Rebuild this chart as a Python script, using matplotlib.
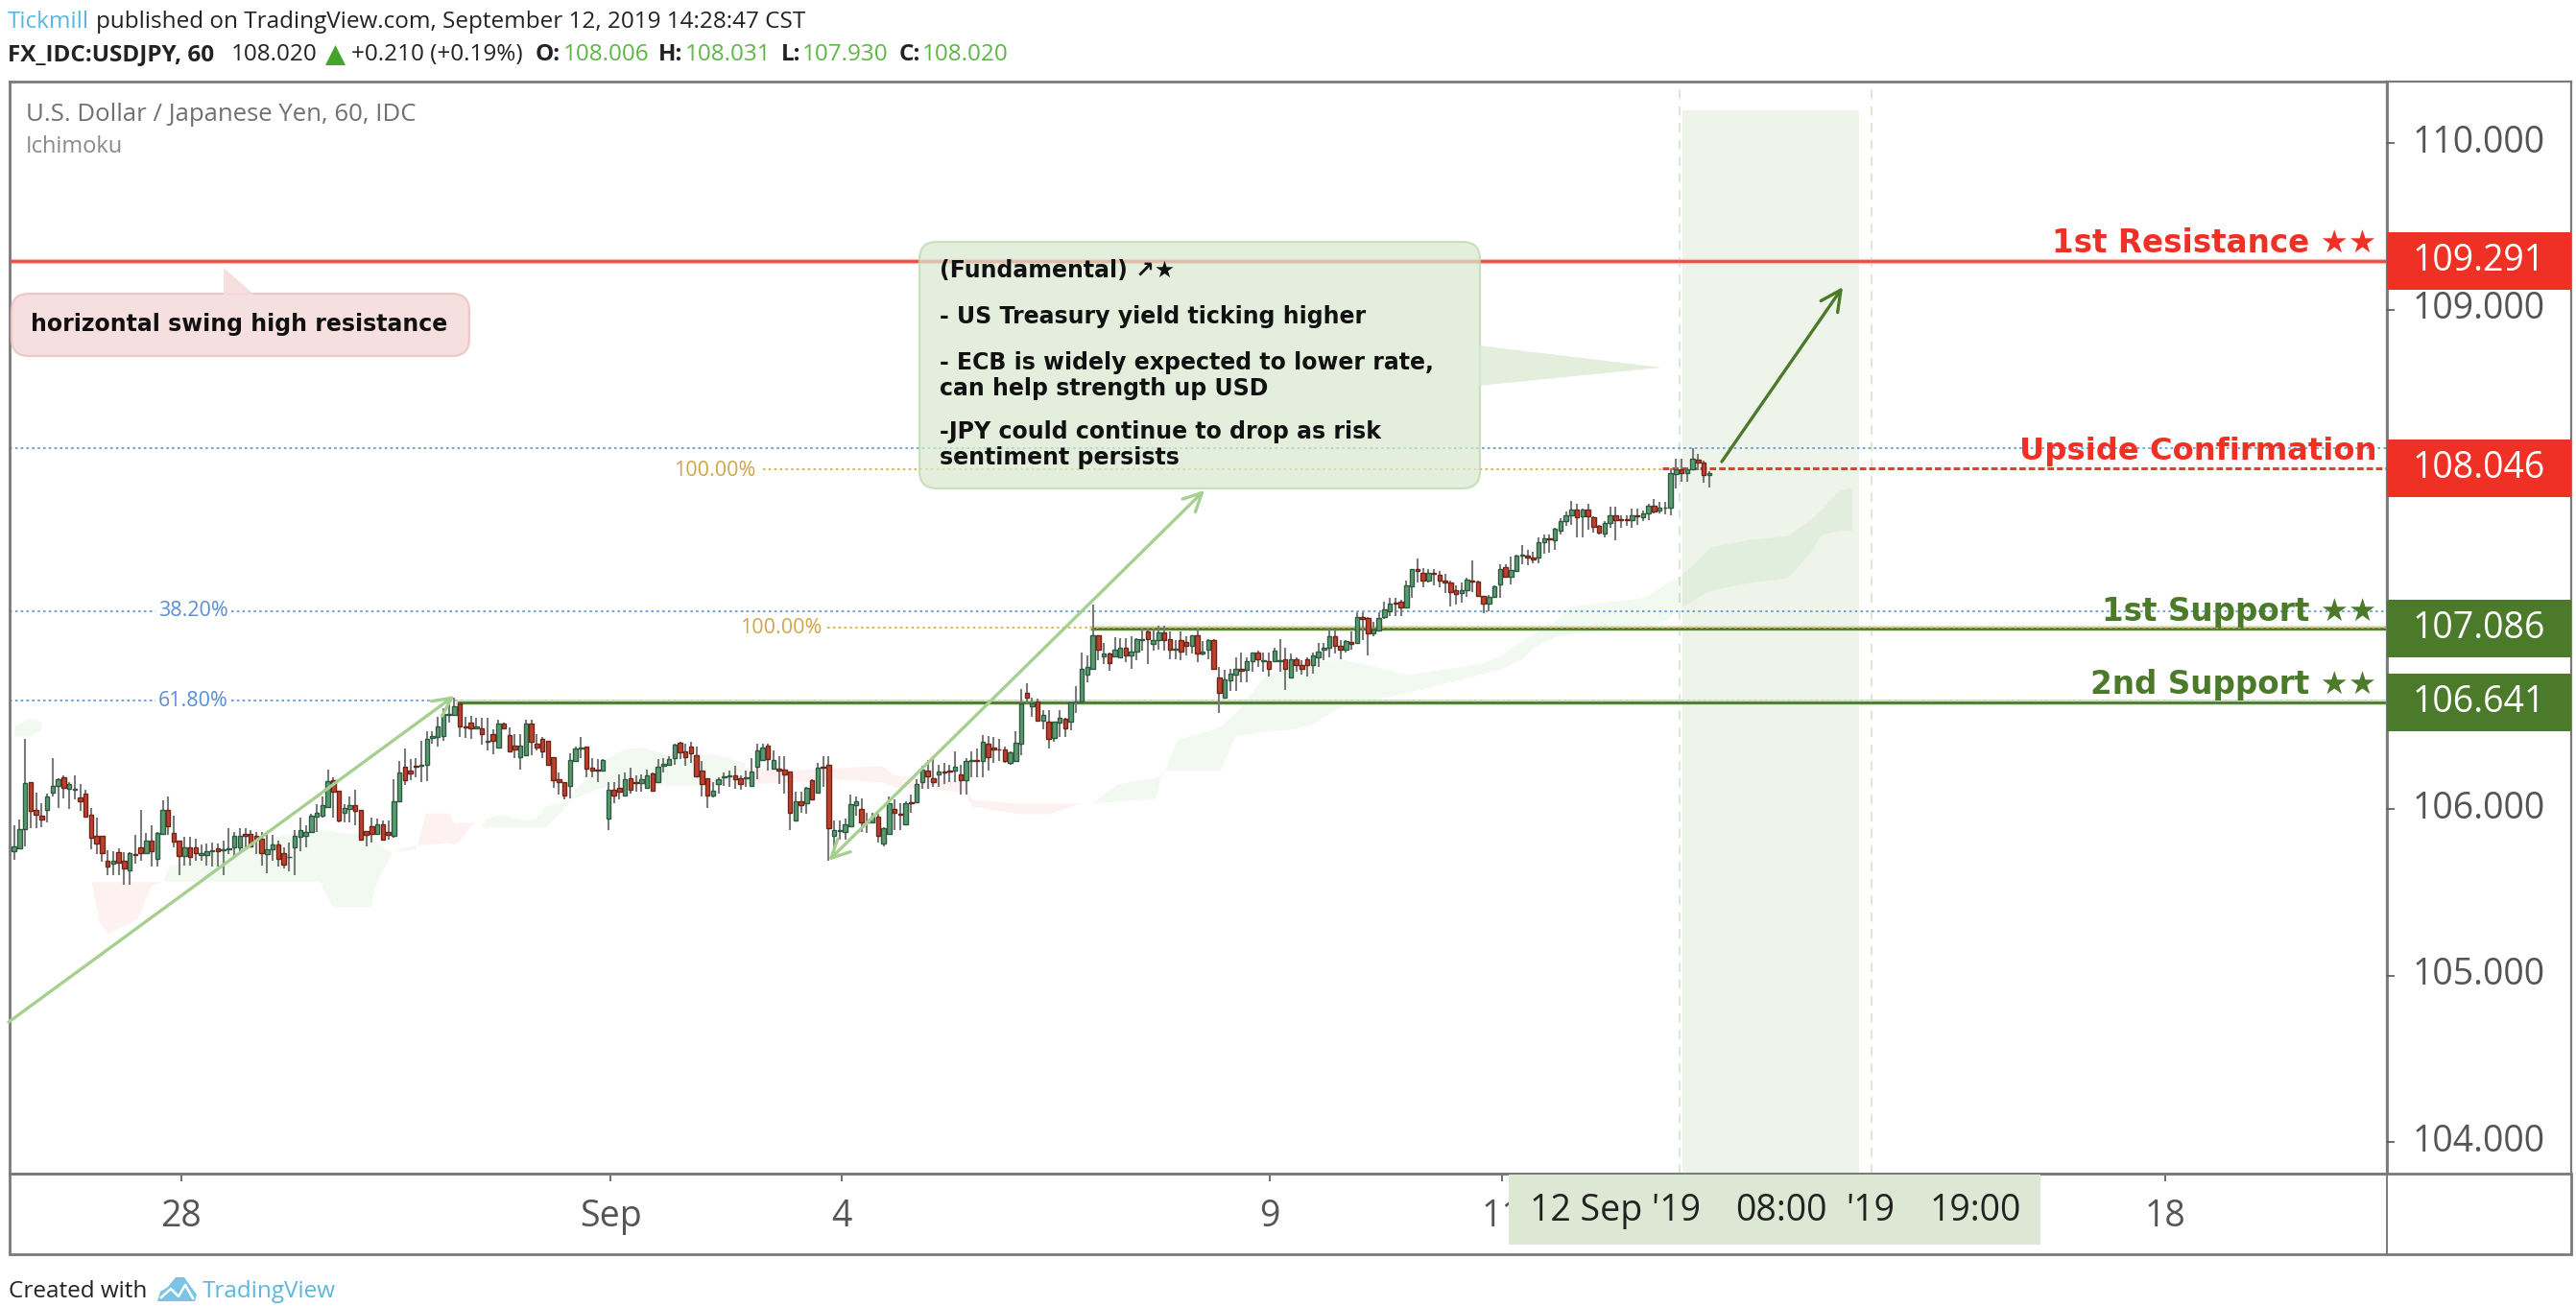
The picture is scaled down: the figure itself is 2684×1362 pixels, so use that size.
import numpy as np
import matplotlib
matplotlib.use("Agg")
import matplotlib.pyplot as plt
from matplotlib.patches import Rectangle, FancyBboxPatch, Polygon
from matplotlib.transforms import Affine2D, blended_transform_factory

# ---------- data: hourly candles (open, high, low, close) ----------
candles_aug_a = [
(105.745,105.903,105.697,105.774),(105.764,105.935,105.759,105.878),(105.878,106.421,105.778,106.156),(106.164,106.164,105.883,105.989),
(105.993,106.098,105.883,105.964),(105.958,106.037,105.893,105.939),(105.997,106.095,105.918,106.075),(106.098,106.306,106.075,106.141),
(106.137,106.187,106.008,106.179),(106.191,106.2,106.066,106.127),(106.123,106.162,106.0,106.152),(106.114,106.2,106.056,106.123),
(106.072,106.152,105.989,106.045),(106.095,106.114,105.95,105.954),(105.968,106.008,105.759,105.826),(105.839,105.951,105.73,105.791),
(105.841,105.841,105.682,105.734),(105.691,105.753,105.605,105.653),(105.672,105.749,105.605,105.689),(105.739,105.764,105.605,105.678),
(105.689,105.739,105.547,105.643),(105.63,105.739,105.547,105.737),(105.73,105.845,105.672,105.724),(105.772,105.995,105.691,105.736),
(105.736,105.855,105.73,105.807),(105.807,105.903,105.653,105.745),(105.701,105.864,105.657,105.855),(105.851,106.05,105.845,105.993),
(105.993,106.075,105.845,105.897),(105.855,105.96,105.768,105.803),(105.807,105.807,105.605,105.72),(105.72,105.835,105.662,105.77),
(105.77,105.83,105.662,105.711),(105.772,105.822,105.691,105.734),(105.724,105.787,105.691,105.736),(105.722,105.791,105.662,105.749),
(105.749,105.797,105.653,105.753),(105.762,105.791,105.653,105.749),(105.755,105.807,105.605,105.759),(105.757,105.887,105.73,105.761),
(105.768,105.864,105.72,105.837),(105.768,105.887,105.749,105.841),(105.849,105.883,105.768,105.839),(105.851,105.874,105.768,105.778),
(105.841,105.864,105.73,105.816),(105.82,105.864,105.662,105.734),(105.73,105.864,105.615,105.759),(105.759,105.845,105.691,105.784),
(105.784,105.807,105.657,105.701),(105.736,105.768,105.643,105.663),(105.71,105.797,105.624,105.714),(105.768,105.874,105.605,105.839),
(105.83,105.947,105.749,105.876),(105.839,105.903,105.768,105.864),(105.864,105.97,105.855,105.96),(105.954,106.027,105.864,105.979),
(105.96,106.075,105.95,106.022),(106.012,106.239,106.008,106.166),(106.175,106.191,105.951,106.104),(106.11,106.11,105.922,105.928),
(105.976,106.027,105.922,106.004),(105.998,106.075,105.922,106.025)]
candles_aug_b = [
(106.024,106.114,105.903,105.989),(105.993,105.993,105.813,105.817),(105.865,105.865,105.778,105.845),(105.899,105.947,105.797,105.853),
(105.853,105.941,105.845,105.909),(105.909,105.932,105.807,105.817),(105.861,105.932,105.817,105.842),(105.84,106.176,105.826,106.047),
(106.047,106.291,106.047,106.22),(106.254,106.364,106.143,106.172),(106.233,106.297,106.172,106.214),(106.258,106.306,106.191,106.252),
(106.258,106.412,106.162,106.268),(106.264,106.469,106.168,106.418),(106.429,106.469,106.393,106.437),(106.431,106.556,106.373,106.498),
(106.437,106.604,106.412,106.569),(106.565,106.652,106.517,106.571),(106.565,106.671,106.565,106.617),(106.636,106.636,106.431,106.494),
(106.496,106.556,106.425,106.492),(106.521,106.56,106.421,106.485),(106.485,106.546,106.479,106.498),(106.485,106.546,106.389,106.448),
(106.406,106.55,106.354,106.41),(106.45,106.479,106.329,106.412),(106.368,106.537,106.364,106.512),(106.512,106.517,106.479,106.483),
(106.441,106.489,106.341,106.348),(106.383,106.45,106.306,106.36),(106.312,106.45,106.239,106.383),(106.322,106.537,106.316,106.512),
(106.512,106.537,106.325,106.402),(106.394,106.45,106.354,106.369),(106.418,106.431,106.306,106.348),(106.408,106.408,106.258,106.264),
(106.314,106.314,106.124,106.172),(106.176,106.22,106.085,106.162),(106.162,106.162,106.06,106.08),(106.137,106.335,106.066,106.293),
(106.291,106.373,106.287,106.364),(106.362,106.431,106.306,106.369),(106.373,106.373,106.191,106.243),(106.247,106.306,106.191,106.233),
(106.235,106.302,106.162,106.231),(106.231,106.297,106.229,106.293)]
candles_sep_a = [
(105.941,106.162,105.874,106.118),(106.118,106.162,106.037,106.083),(106.126,106.21,106.06,106.103),(106.08,106.22,106.076,106.176),
(106.185,106.249,106.095,106.114),(106.162,106.201,106.105,106.156),(106.153,106.21,106.105,106.176),(106.128,106.239,106.124,106.199),
(106.214,106.22,106.105,106.11),(106.162,106.297,106.156,106.256),(106.258,106.306,106.22,106.27),(106.264,106.316,106.258,106.302),
(106.304,106.393,106.268,106.387),(106.395,106.402,106.297,106.341),(106.345,106.393,106.258,106.314),(106.373,106.402,106.277,106.335),
(106.325,106.373,106.191,106.194),(106.233,106.287,106.075,106.152),(106.187,106.187,106.008,106.081),(106.081,106.162,106.072,106.108),
(106.148,106.191,106.095,106.177),(106.191,106.219,106.137,106.198),(106.196,106.229,106.133,106.2),(106.2,106.258,106.123,106.181),
(106.187,106.2,106.114,106.148),(106.187,106.229,106.133,106.191),(106.137,106.306,106.133,106.223),(106.252,106.392,106.181,106.35),
(106.292,106.392,106.287,106.369),(106.383,106.392,106.229,106.3),(106.242,106.354,106.239,106.294),(106.242,106.315,106.152,106.233),
(106.237,106.315,106.095,106.21),(106.223,106.223,105.874,105.976),(105.931,106.104,105.928,106.047),(106.048,106.104,105.979,106.025),
(106.033,106.133,105.97,106.129),(106.175,106.181,106.056,106.056),(106.1,106.277,106.095,106.246),(106.252,106.315,106.133,106.246),
(106.267,106.315,105.691,105.883)]
candles_sep_b = [
(105.841,105.931,105.73,105.874),(105.868,105.931,105.816,105.874),(105.864,105.941,105.816,105.91),(105.897,106.085,105.893,106.027),
(106.024,106.075,105.96,106.047),(106.002,106.066,105.864,105.918),(105.922,105.979,105.855,105.918),(105.922,105.979,105.912,105.956),
(105.956,105.97,105.797,105.841),(105.791,105.893,105.778,105.883),(105.851,106.075,105.845,106.037),(106.002,106.056,105.874,105.976),
(105.97,106.037,105.874,105.964),(105.908,106.047,105.903,106.037),(106.039,106.085,105.979,106.035),(106.043,106.181,106.037,106.152),
(106.162,106.258,106.123,106.235),(106.233,106.296,106.123,106.194),(106.187,106.306,106.133,106.16),(106.21,106.267,106.133,106.223),
(106.225,106.277,106.152,106.221),(106.231,106.267,106.162,106.225),(106.233,106.344,106.162,106.256),(106.21,106.267,106.085,106.175),
(106.171,106.306,106.085,106.29),(106.29,106.344,106.191,106.294),(106.292,106.363,106.191,106.288),(106.29,106.446,106.191,106.406),
(106.392,106.44,106.229,106.312),(106.367,106.431,106.277,106.36),(106.36,106.421,106.287,106.356),(106.36,106.373,106.277,106.287),
(106.277,106.344,106.267,106.34),(106.287,106.469,106.287,106.396),(106.392,106.719,106.325,106.636),(106.696,106.757,106.632,106.667)]
candles_sep_c = [
(106.618,106.671,106.556,106.635),(106.646,106.662,106.527,106.531),(106.531,106.595,106.479,106.566),(106.522,106.595,106.364,106.422),
(106.426,106.527,106.403,106.522),(106.52,106.595,106.431,106.547),(106.543,106.547,106.431,106.483),(106.527,106.643,106.47,106.639),
(106.643,106.739,106.575,106.648),(106.648,106.94,106.643,106.844),(106.806,106.921,106.758,106.854),(106.844,107.228,106.835,107.042),
(107.042,107.042,106.892,106.956),(106.917,107.0,106.873,106.936),(106.936,106.94,106.829,106.875),(106.915,107.032,106.911,106.956),
(106.911,107.027,106.906,106.969),(106.969,107.027,106.883,106.923),(106.921,107.036,106.84,106.946),(106.944,107.027,106.892,107.021),
(107.015,107.084,106.95,107.023),(107.065,107.084,106.873,107.023),(106.99,107.084,106.95,107.017),(107.013,107.103,106.959,107.061),
(107.061,107.103,106.95,107.013),(107.021,107.065,106.898,106.956),(106.954,107.017,106.898,106.96),(107.017,107.065,106.892,106.946),
(107.004,107.036,106.921,106.982),(106.979,107.046,106.931,107.042),(107.042,107.084,106.883,106.934),(106.936,107.007,106.921,106.944),
(106.956,107.021,106.898,107.017),(107.017,107.021,106.84,106.84)]
candles_sep_d = [
(106.787,106.854,106.575,106.7),(106.668,106.835,106.662,106.777),(106.773,106.844,106.71,106.812),(106.806,106.911,106.71,106.844),
(106.844,106.94,106.758,106.831),(106.835,106.911,106.758,106.888),(106.888,106.94,106.825,106.938),(106.938,106.95,106.854,106.898),
(106.885,106.94,106.825,106.892),(106.89,106.94,106.796,106.84),(106.888,106.969,106.883,106.95),(106.89,107.021,106.825,106.894),
(106.898,106.969,106.714,106.84),(106.79,106.931,106.787,106.898),(106.902,106.911,106.825,106.867),(106.867,106.892,106.806,106.84),
(106.902,106.911,106.796,106.867),(106.867,106.94,106.815,106.925),(106.911,106.998,106.854,106.948),(106.957,106.998,106.892,106.969),
(106.969,107.084,106.911,107.04),(107.04,107.075,106.931,106.979),(106.979,107.017,106.902,106.956),(106.956,107.017,106.94,107.007),
(107.002,107.065,106.959,106.994),(106.998,107.18,106.994,107.155),(107.155,107.18,107.017,107.144),(107.148,107.151,106.921,107.052),
(107.052,107.123,107.036,107.078)]
candles_sep_e = [
(107.071,107.18,107.065,107.146),(107.151,107.247,107.142,107.201),(107.186,107.27,107.161,107.236),(107.24,107.267,107.161,107.234),
(107.246,107.257,107.161,107.209),(107.209,107.372,107.203,107.343),(107.34,107.443,107.267,107.443),(107.441,107.507,107.363,107.432),
(107.416,107.449,107.334,107.37),(107.372,107.439,107.363,107.42),(107.42,107.439,107.343,107.411),(107.409,107.43,107.334,107.372),
(107.374,107.411,107.295,107.363),(107.363,107.372,107.219,107.305),(107.315,107.343,107.228,107.292),(107.295,107.363,107.238,107.315),
(107.315,107.391,107.276,107.376),(107.372,107.493,107.305,107.366),(107.368,107.372,107.276,107.28),(107.28,107.28,107.174,107.234),
(107.234,107.286,107.186,107.272),(107.276,107.343,107.267,107.34),(107.347,107.468,107.267,107.443),(107.455,107.468,107.391,107.395),
(107.395,107.516,107.347,107.434),(107.43,107.526,107.426,107.524),(107.524,107.583,107.468,107.53),(107.524,107.555,107.462,107.512),
(107.51,107.545,107.474,107.499),(107.512,107.631,107.478,107.603),(107.601,107.651,107.535,107.626),(107.624,107.651,107.539,107.618),
(107.616,107.689,107.558,107.685),(107.672,107.747,107.651,107.729),(107.729,107.785,107.699,107.766),(107.762,107.852,107.704,107.798),
(107.8,107.833,107.631,107.752),(107.756,107.804,107.631,107.798),(107.8,107.833,107.679,107.756),(107.752,107.756,107.66,107.695),
(107.702,107.708,107.651,107.658),(107.656,107.727,107.631,107.718),(107.718,107.814,107.689,107.766),(107.762,107.814,107.612,107.733),
(107.741,107.766,107.689,107.735),(107.741,107.766,107.699,107.735),(107.733,107.804,107.689,107.762),(107.762,107.804,107.708,107.756),
(107.75,107.795,107.727,107.775),(107.773,107.833,107.737,107.823),(107.82,107.862,107.775,107.789),(107.791,107.846,107.775,107.81),
(107.808,107.846,107.77,107.81),(107.81,108.044,107.762,108.019),(108.01,108.102,107.923,108.04),(108.038,108.102,107.967,108.015),
(108.019,108.054,107.967,108.04),(108.038,108.169,108.038,108.102),(108.098,108.131,108.035,108.079),(108.079,108.092,107.958,108.006),
(108.006,108.031,107.930,108.020)]

# ---------- Ichimoku cloud: position, upper, lower ----------
cloud_a_x = [0,2.7,4.9]; cloud_a_hi = [106.496,106.548,106.524]; cloud_a_lo = [106.438,106.438,106.478]
cloud_b_x = [14.0,15.4,17.0,22.4,25.0,27.1]; cloud_b_hi = [105.563]*6; cloud_b_lo = [105.563,105.327,105.252,105.344,105.546,105.563]
cloud_c_x = [27.1,28.1,47.3,55.0,55.5,57.8,59.7,62.8,64.7,66.0,67.9,68.6,73.0]
cloud_c_hi = [105.568,105.655,105.833,105.874,105.874,105.868,105.856,105.856,105.833,105.799,105.747,105.747,105.787]
cloud_c_lo = [105.568,105.568,105.568,105.568,105.568,105.413,105.413,105.413,105.413,105.574,105.689,105.747,105.758]
cloud_d_x = [73.3,74.7,79.1,79.9,81.5,82.9,84.1]
cloud_d_hi = [105.787,105.977,105.977,105.92,105.92,105.92,105.92]
cloud_d_lo = [105.787,105.787,105.799,105.787,105.828,105.902,105.92]
cloud_e_x = [85.0,86.0,88.5,92.5,94.8,96.5,99.5,101.2,101.7,104.2,107.0,107.6,111.1,114.6,118.1,123.9,127.4,132.8]
cloud_e_hi = [105.902,105.949,105.966,105.931,105.943,106.018,106.035,106.075,106.116,106.19,106.265,106.306,106.363,106.369,106.329,106.329,106.329,106.277]
cloud_e_lo = [105.891,105.891,105.891,105.891,105.891,105.891,105.989,106.064,106.064,106.098,106.133,106.133,106.139,106.144,106.144,106.144,106.144,106.15]
cloud_f_x = [133.0,141.3,149.2,157.7,160.0,172.7,174.0,182.3,188.1,191.0,193.5]
cloud_f_hi = [106.248,106.236,106.248,106.26,106.202,106.162,106.058,106.035,106.035,106.035,106.035]
cloud_f_lo = [106.15,106.162,106.179,106.162,106.133,106.104,106.018,105.972,105.972,106.006,106.035]
cloud_g_x = [195.7,200.4,207.4,208.6,211.4,216.8,219.1,221.9,226.9,231.5,235.5,241.6,247.7,252.9,266.2,270.0,273.9,276.0,280.1,282.6,296.5,300.4,302.8,308.2,315.2,322.2,326.2,328.4,331.6,334.0]
cloud_g_hi = [106.035,106.15,106.19,106.202,106.421,106.467,106.496,106.576,106.784,106.882,106.887,106.899,106.853,106.807,106.871,106.922,107.008,107.054,107.129,107.216,107.273,107.36,107.4,107.573,107.619,107.642,107.734,107.803,107.918,107.93]
cloud_g_lo = [106.035,106.046,106.064,106.231,106.231,106.231,106.231,106.438,106.467,106.478,106.507,106.622,106.663,106.697,106.807,106.841,106.899,106.968,107.037,107.054,107.095,107.141,107.21,107.314,107.36,107.389,107.533,107.648,107.671,107.676]

# ---------- levels, ticks, labels ----------
price_ticks = [104, 105, 106, 109, 110]
resistance_1, upside_conf, support_1, support_2 = 109.291, 108.046, 107.086, 106.641
fib_382, fib_618, fib_top = 107.189, 106.651, 108.169
fib_100_a, fib_100_b = 108.042, 107.088
date_tick_pos = [30.4, 108.4, 150.4, 228.2, 270.4, 302.6, 337.5, 390.9]
date_tick_labels = ['28', 'Sep', '4', '9', '11', '', '', '18']
arrow_a = ((-1.0, 104.72), (80.0, 106.68))
arrow_b = ((216.3, 107.914), (148.0, 105.69))
arrow_c = ((310.3, 108.086), (332.3, 109.135))
note_lines = ['(Fundamental) ↗★', '- US Treasury yield ticking higher',
              '- ECB is widely expected to lower rate,', 'can help strength up USD',
              '-JPY could continue to drop as risk', 'sentiment persists']

# ---------- layout ----------
W, H = 2684, 1362
fig = plt.figure(figsize=(W/100, H/100), dpi=100, facecolor='white')
PX = Affine2D().scale(1, -1).translate(0, H)
SANS = 'Open Sans'
L, R, T, B, EDGE, FOOT = 10, 2487, 85, 1223, 2679, 1307
PX_PER_BAR, PX0 = 5.734, 14.7
PX_PER_UNIT, PY0 = 173.5, 149

def ax_rect(l, r, t, b):
    return [l/W, 1-b/H, (r-l)/W, (b-t)/H]

ax = fig.add_axes(ax_rect(L, R, T, B), zorder=2)
ax.set_xlim((L-PX0)/PX_PER_BAR, (R-PX0)/PX_PER_BAR)
ylim = (110-(B-PY0)/PX_PER_UNIT, 110-(T-PY0)/PX_PER_UNIT)
ax.set_ylim(*ylim)
ax.patch.set_alpha(0)
for s in ax.spines.values():
    s.set_color('#7a7a7a'); s.set_linewidth(2)
ax.set_yticks([])
ax.set_xticks(date_tick_pos)
ax.set_xticklabels(date_tick_labels, fontsize=27, color='#555555', family=SANS)
ax.tick_params(axis='x', length=6, width=1.2, color='#555555', pad=13)

axp = fig.add_axes(ax_rect(R, EDGE, T, B), zorder=3)
axp.set_ylim(*ylim); axp.set_xlim(0, 1)
axp.patch.set_alpha(0)
axp.set_xticks([])
axp.yaxis.tick_left()
axp.set_yticks(price_ticks)
axp.tick_params(axis='y', left=False, labelleft=False)
for s in axp.spines.values():
    s.set_color('#7a7a7a'); s.set_linewidth(1.6)
axp.spines['bottom'].set_visible(False)
axp_tr = blended_transform_factory(axp.transAxes, axp.transData)
for p in price_ticks:
    axp.plot([0, 0.042], [p, p], transform=axp_tr, color='#555555', lw=1.2, solid_capstyle='butt', zorder=3, clip_on=False)
    axp.text(0.5, p, f'{p:.3f}', transform=axp_tr, ha='center', va='center', fontsize=27, color='#555555', family=SANS, zorder=3)

# frame for the lower strip
fig.add_artist(Rectangle((L, B), EDGE-L, FOOT-B, transform=PX, fill=False, ec='#7a7a7a', lw=2, zorder=1))
fig.add_artist(plt.Line2D([R, R], [B, FOOT], transform=PX, color='#7a7a7a', lw=1.4, zorder=1))

# future-time shading and vertical dashes
GREEN, RED = '#4a7a2a', '#ee3124'
sx0, sx1 = (1753-PX0)/PX_PER_BAR, (1937-PX0)/PX_PER_BAR
ax.add_patch(Rectangle((sx0, ylim[0]), sx1-sx0, (110-(115-PY0)/PX_PER_UNIT)-ylim[0], fc='#5a9a3a', alpha=0.10, ec='none', zorder=1))
for v in (302.6, 337.5):
    ax.axvline(v, color='#dbe9d2', lw=1.4, ls=(0, (5, 4)), zorder=1)

# cloud
GC, RC = '#4caf50', '#ef5350'
for xs, hi, lo, c in [(cloud_a_x, cloud_a_hi, cloud_a_lo, GC), (cloud_b_x, cloud_b_hi, cloud_b_lo, RC),
                      (cloud_c_x, cloud_c_hi, cloud_c_lo, GC), (cloud_d_x, cloud_d_hi, cloud_d_lo, RC),
                      (cloud_e_x, cloud_e_hi, cloud_e_lo, GC), (cloud_f_x, cloud_f_hi, cloud_f_lo, RC),
                      (cloud_g_x, cloud_g_hi, cloud_g_lo, GC)]:
    ax.fill_between(xs, lo, hi, color=c, alpha=0.075, lw=0, zorder=1.2)

# levels
BLUE, GOLD = '#6aa3dc', '#e0b458'
DOT = (0, (1.3, 1.7))
for lv, segs in [(fib_top, [(L, R)]), (fib_382, [(L, 162), (241, R)]), (fib_618, [(L, 162), (241, R)])]:
    for a, b in segs:
        ax.plot([(a-PX0)/PX_PER_BAR, (b-PX0)/PX_PER_BAR], [lv, lv], color=BLUE, lw=1.4, ls=DOT, zorder=2)
ax.plot([(795-PX0)/PX_PER_BAR, (1735-PX0)/PX_PER_BAR], [fib_100_a]*2, color=GOLD, lw=1.4, ls=DOT, zorder=2)
ax.plot([(862-PX0)/PX_PER_BAR, (R-PX0)/PX_PER_BAR], [fib_100_b]*2, color=GOLD, lw=1.4, ls=DOT, zorder=2.3)

x_end = (R-PX0)/PX_PER_BAR
ax.plot([(L-PX0)/PX_PER_BAR, x_end], [resistance_1]*2, color='#f6b9b5', lw=3.8, zorder=2)
ax.plot([(L-PX0)/PX_PER_BAR, x_end], [resistance_1]*2, color='#ef4b45', lw=2.0, zorder=2.1)
for lv, x0px in [(support_1, 1138), (support_2, 478)]:
    xa = (x0px-PX0)/PX_PER_BAR
    ax.plot([xa, x_end], [lv]*2, color='#cfe0c4', lw=4.0, zorder=2)
    ax.plot([xa, x_end], [lv]*2, color=GREEN, lw=2.0, zorder=2.1)
ax.plot([(1732-PX0)/PX_PER_BAR, x_end], [upside_conf]*2, color='#ef3a33', lw=2.2, ls=(0, (2.2, 1.0)), zorder=2.2)

# candles
ohlc = np.array(candles_aug_a + candles_aug_b + candles_sep_a + candles_sep_b + candles_sep_c + candles_sep_d + candles_sep_e)
idx = np.arange(len(ohlc))
o, h, l, c = ohlc.T
up = c >= o
ax.vlines(idx, l, h, colors='#7a7a7a', lw=1.5, zorder=3)
ax.bar(idx[up], (c-o)[up], bottom=o[up], width=0.78, color='#5a9a72', edgecolor='#2c5a3e', lw=1.0, zorder=3.2)
ax.bar(idx[~up], (c-o)[~up], bottom=o[~up], width=0.78, color='#c0402e', edgecolor='#6f2418', lw=1.0, zorder=3.2)

# arrows
LG = '#a6d08f'
ax.annotate('', xy=arrow_a[1], xytext=arrow_a[0], zorder=3.5,
            arrowprops=dict(arrowstyle='->', color=LG, lw=2.4, mutation_scale=34, shrinkA=0, shrinkB=0))
ax.annotate('', xy=arrow_b[1], xytext=arrow_b[0], zorder=3.5,
            arrowprops=dict(arrowstyle='<->', color=LG, lw=2.4, mutation_scale=34, shrinkA=0, shrinkB=0))
ax.annotate('', xy=arrow_c[1], xytext=arrow_c[0], zorder=5,
            arrowprops=dict(arrowstyle='->', color=GREEN, lw=2.4, mutation_scale=38, shrinkA=0, shrinkB=0))

# callouts
def callout(x0, y0, x1, y1, pts, fc, ec, alpha, z=4):
    box = FancyBboxPatch((x0+14, y0+14), x1-x0-28, y1-y0-28, boxstyle='round,pad=14,rounding_size=18',
                         transform=PX, fc=fc, ec=ec, lw=1.6, alpha=alpha, zorder=z, clip_on=False)
    ax.add_patch(box)
    ax.add_patch(Polygon(pts, closed=True, transform=PX, fc=fc, ec='none', alpha=alpha, zorder=z, clip_on=False))

callout(958, 252, 1542, 509, [(1541, 360), (1731, 383), (1541, 402)], '#d9e9cf', '#bcd8ac', 0.72)
callout(12, 306, 489, 371, [(233, 307), (233, 279), (265, 307)], '#f6dcdc', '#efc4c4', 0.9)
NOTE_FS = 17
ax.text(32, 338, 'horizontal swing high resistance', transform=PX, family='DejaVu Sans', weight='bold',
        fontsize=NOTE_FS, color='#111111', va='center', ha='left', zorder=6)
for s, y in zip(note_lines, [282, 330, 378, 405, 450, 477]):
    ax.text(979, y, s, transform=PX, family='DejaVu Sans', weight='bold', fontsize=NOTE_FS,
            color='#111111', va='center', ha='left', zorder=6)

# fib labels
FIB_FS = 15.5
ax.text(201, 637, '38.20%', transform=PX, ha='center', va='center', color='#5b8fd0', fontsize=FIB_FS, family=SANS, zorder=4)
ax.text(201, 731, '61.80%', transform=PX, ha='center', va='center', color='#5b8fd0', fontsize=FIB_FS, family=SANS, zorder=4)
ax.text(745, 490, '100.00%', transform=PX, ha='center', va='center', color='#cfa64a', fontsize=FIB_FS, family=SANS, zorder=4)
ax.text(814, 654, '100.00%', transform=PX, ha='center', va='center', color='#cfa64a', fontsize=FIB_FS, family=SANS, zorder=4)

# level labels and price boxes
for s, y, col, fs in [('1st Resistance ★★', 253, RED, 23.5), ('Upside Confirmation', 471, RED, 23.2),
                      ('1st Support ★★', 637, GREEN, 23.5), ('2nd Support ★★', 714, GREEN, 23.5)]:
    ax.text(2476, y, s, transform=PX, ha='right', va='center', color=col, fontsize=fs,
            family='DejaVu Sans', weight='bold', zorder=6)
for lv, col in [(resistance_1, RED), (upside_conf, RED), (support_1, GREEN), (support_2, GREEN)]:
    axp.add_patch(Rectangle((0, lv-0.173), 1, 0.346, transform=axp_tr, fc=col, ec='none', zorder=5, clip_on=False))
    axp.text(0.5, lv, f'{lv:.3f}', transform=axp_tr, ha='center', va='center', color='white',
             fontsize=27, family=SANS, zorder=6)

# date highlight strip
ax.add_patch(Rectangle((1572, 1224), 554, 73, transform=PX, fc='#dce8d3', ec='none', zorder=6, clip_on=False))
for s, x in [("12 Sep '19", 1683), ('08:00', 1856), ("'19", 1949), ('19:00', 2058)]:
    ax.text(x, 1262, s, transform=PX, ha='center', va='center', fontsize=27, color='#222222', family=SANS, zorder=7, clip_on=False)

# header and footer
def t(x, y, s, col='#222222', fs=17.5, **kw):
    fig.text(x, y, s, transform=PX, color=col, fontsize=fs, family=SANS, va='center', ha='left', **kw)

CY, BK, GR = '#5ab8e0', '#222222', '#43a52b'
t(8, 23, 'Tickmill', CY)
t(100, 23, 'published on TradingView.com, September 12, 2019 14:28:47 CST')
t(8, 57, 'FX_IDC:USDJPY, 60', BK, weight='bold')
t(241, 57, '108.020')
fig.add_artist(Polygon([(339, 68), (349.5, 47), (360, 68)], transform=PX, fc=GR, ec='none'))
t(366, 57, '+0.210 (+0.19%)')
for lab, xl, val, xv in [('O:', 558, '108.006', 587), ('H:', 686, '108.031', 714), ('L:', 814, '107.930', 836), ('C:', 937, '108.020', 961)]:
    t(xl, 57, lab, BK, weight='bold')
    t(xv, 57, val, '#5fb548')
t(27, 120, 'U.S. Dollar / Japanese Yen, 60, IDC', '#707070', fs=18.5)
t(27, 153, 'Ichimoku', '#8a8a8a', fs=17)
t(9, 1346, 'Created with', BK)
t(211, 1346, 'TradingView', CY)
fig.add_artist(Polygon([(164, 1356), (167, 1346), (175, 1341), (183, 1331), (192, 1331), (199, 1341), (205, 1349), (203, 1356)],
                       transform=PX, fc='#7cc4e4', ec='none'))
fig.add_artist(plt.Line2D([168, 178, 186, 193, 201], [1352, 1343, 1351, 1339, 1353], transform=PX, color='white', lw=1.8))

fig.savefig('out.png', dpi=100, facecolor='white')
